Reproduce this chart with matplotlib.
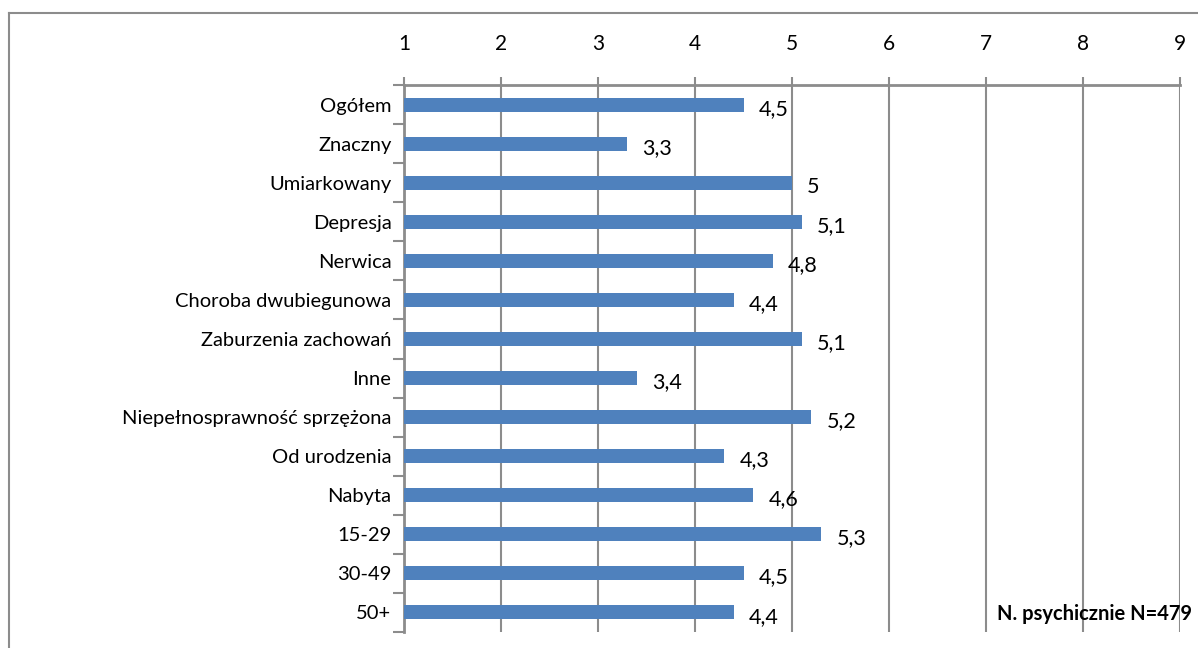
import matplotlib
matplotlib.use("Agg")
import matplotlib.pyplot as plt
from matplotlib.lines import Line2D

# data
categories = ["Ogółem", "Znaczny", "Umiarkowany", "Depresja", "Nerwica",
              "Choroba dwubiegunowa", "Zaburzenia zachowań", "Inne",
              "Niepełnosprawność sprzężona", "Od urodzenia", "Nabyta",
              "15-29", "30-49", "50+"]
values = [4.5, 3.3, 5.0, 5.1, 4.8, 4.4, 5.1, 3.4, 5.2, 4.3, 4.6, 5.3, 4.5, 4.4]
value_labels = ["4,5", "3,3", "5", "5,1", "4,8", "4,4", "5,1", "3,4", "5,2",
                "4,3", "4,6", "5,3", "4,5", "4,4"]
x_ticks = [1, 2, 3, 4, 5, 6, 7, 8, 9]
note = "N. psychicznie N=479"

plt.rcParams["font.family"] = ["Lato", "DejaVu Sans"]
W, H = 1198, 648
fig = plt.figure(figsize=(W / 100, H / 100), dpi=100)
ax = fig.add_axes([404 / W, 1 - 632 / H, (1180 - 404) / W, (632 - 85) / H])

grey = "#8c8c8c"
pos = list(range(len(categories)))
ax.barh(pos, values, height=0.36, color="#4f81bd", zorder=3)

ax.set_xlim(1, 9)
ax.set_ylim(len(categories) - 0.5, -0.5)
ax.set_xticks(x_ticks)
ax.set_xticklabels([str(t) for t in x_ticks], fontsize=15)
ax.xaxis.tick_top()
ax.tick_params(axis="x", direction="out", length=6, width=1.5, color=grey, pad=16)
ax.grid(axis="x", color=grey, linewidth=1.5, zorder=0)

ax.set_yticks(pos)
ax.set_yticklabels(categories, fontsize=14.5)
ax.set_yticks([p + 0.5 for p in [-1] + pos], minor=True)
ax.tick_params(axis="y", which="major", length=0, pad=9)
ax.tick_params(axis="y", which="minor", length=8, width=1.5, color=grey)

for s in ["bottom", "right"]:
    ax.spines[s].set_visible(False)
for s in ["top", "left"]:
    ax.spines[s].set_color(grey)
    ax.spines[s].set_linewidth(2)

for p, v, lab in zip(pos, values, value_labels):
    ax.annotate(lab, (v, p), xytext=(11, -3), textcoords="offset points",
                ha="left", va="center", fontsize=15.5)

ax.text(1192 / W, 1 - 614 / H, note, transform=fig.transFigure,
        ha="right", va="center", fontsize=14.5, fontweight="bold")

# outer chart border
fig.add_artist(Line2D([8.5 / W, 8.5 / W], [0, 1 - 13 / H], transform=fig.transFigure,
                      color=grey, linewidth=1.5))
fig.add_artist(Line2D([8.5 / W, 1], [1 - 13 / H, 1 - 13 / H], transform=fig.transFigure,
                      color=grey, linewidth=1.5))

fig.savefig("out.png", dpi=100)
